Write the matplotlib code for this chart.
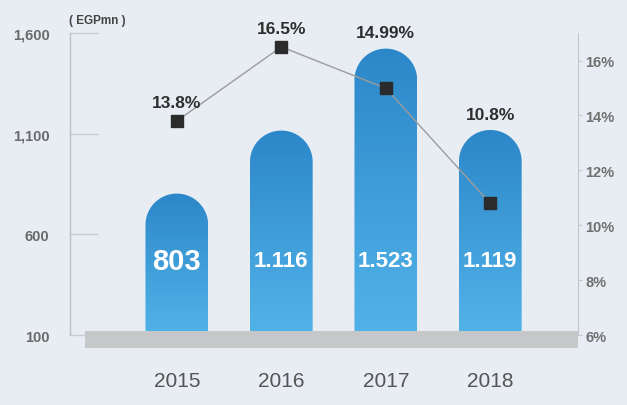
import numpy as np
import matplotlib.pyplot as plt
from matplotlib.path import Path
from matplotlib.patches import PathPatch, Rectangle
from matplotlib.colors import LinearSegmentedColormap
from matplotlib.transforms import blended_transform_factory

years = ['2015', '2016', '2017', '2018']
revenue = [803, 1116, 1523, 1119]          # EGPmn
revenue_labels = ['803', '1.116', '1.523', '1.119']
margin = [13.8, 16.5, 14.99, 10.8]          # %
margin_labels = ['13.8%', '16.5%', '14.99%', '10.8%']
left_ticks = [100, 600, 1100, 1600]
right_ticks = [6, 8, 10, 12, 14, 16]

bg = '#e7edf3'
plt.rcParams['font.family'] = ['Liberation Sans', 'DejaVu Sans']

fig = plt.figure(figsize=(6.27, 4.06), dpi=100, facecolor=bg)
ax = fig.add_axes([0.112, 0.172, 0.810, 0.744])
ax.set_facecolor(bg)
ax.set_xlim(-1.02, 3.84)
ax.set_ylim(100, 1600)

x = np.arange(len(years))
bar_w = 0.60

# rounded-top bars filled with a vertical gradient
fig.canvas.draw()
px_per_unit = ax.transData.transform((1, 1)) - ax.transData.transform((0, 0))
cap_h = (bar_w / 2) * px_per_unit[0] / px_per_unit[1]
grad = np.linspace(0, 1, 256).reshape(-1, 1)
blue = LinearSegmentedColormap.from_list('barblue', ['#52b3e8', '#2c87c9'])
for xi, v in zip(x, revenue):
    y0 = v - cap_h
    t = np.linspace(np.pi, 0, 60)
    arc = np.column_stack([xi + bar_w / 2 * np.cos(t), y0 + cap_h * np.sin(t)])
    verts = np.vstack([[xi - bar_w / 2, 100], arc, [xi + bar_w / 2, 100], [xi - bar_w / 2, 100]])
    codes = [Path.MOVETO] + [Path.LINETO] * (len(verts) - 2) + [Path.CLOSEPOLY]
    patch = PathPatch(Path(verts, codes), facecolor='none', edgecolor='none')
    ax.add_patch(patch)
    im = ax.imshow(grad, cmap=blue, aspect='auto', origin='lower',
                   extent=[xi - bar_w / 2, xi + bar_w / 2, 100, v], zorder=2)
    im.set_clip_path(patch)

ax.set_xlim(-1.02, 3.84)
ax.set_ylim(100, 1600)

# grey base strip
tr = blended_transform_factory(ax.transData, ax.transAxes)
ax.add_patch(Rectangle((-0.88, -0.043), 4.72, 0.057, transform=tr,
                       facecolor='#c6c7c8', edgecolor='none', zorder=3, clip_on=False))

for xi, lab in zip(x, revenue_labels):
    size = 21 if len(lab) == 3 else 16
    ax.text(xi, 470, lab, ha='center', va='center', color='white',
            fontsize=size, fontweight='bold', zorder=4)

# left axis
ax.spines[['top', 'right', 'bottom']].set_visible(False)
ax.spines['left'].set_color('#bcc1c6')
ax.spines['left'].set_linewidth(1.0)
ax.set_yticks(left_ticks)
ax.set_yticklabels([f'{t:,}' for t in left_ticks])
ax.tick_params(axis='y', direction='in', length=20, width=1, color='#c9cdd2',
               labelsize=10.5, labelcolor='#6a6a6a', pad=15)
for lab in ax.get_yticklabels():
    lab.set_fontweight('bold')
ax.set_xticks(x)
ax.set_xticklabels(years)
ax.tick_params(axis='x', length=0, labelsize=15, labelcolor='#555555', pad=26)

# right axis with margin line
ax2 = ax.twinx()
ax2.set_ylim(6, 17)
ax2.spines[['top', 'left', 'bottom']].set_visible(False)
ax2.spines['right'].set_color('#c4c8cd')
ax2.set_yticks(right_ticks)
ax2.set_yticklabels([f'{t}%' for t in right_ticks])
ax2.tick_params(axis='y', direction='out', length=3, width=0.8, color='#c4c8cd',
                labelsize=10.5, labelcolor='#707070', pad=2)
for lab in ax2.get_yticklabels():
    lab.set_fontweight('bold')
ax2.plot(x, margin, color='#9c9c9c', linewidth=1.0, marker='s', markersize=8,
         markerfacecolor='#2b2b2b', markeredgecolor='#2b2b2b', zorder=5)

# percentage labels sit above the marker or the bar, whichever is higher
for xi, v, m, lab in zip(x, revenue, margin, margin_labels):
    bar_top = ax.transData.transform((xi, v))[1]
    mark = ax2.transData.transform((xi, m))[1]
    if bar_top > mark:
        ax.annotate(lab, (xi, v), xytext=(0, 6), textcoords='offset points',
                    ha='center', va='bottom', fontsize=12.5, fontweight='bold',
                    color='#2e2e2e', annotation_clip=False, zorder=6)
    else:
        ax2.annotate(lab, (xi, m), xytext=(0, 8), textcoords='offset points',
                     ha='center', va='bottom', fontsize=12.5, fontweight='bold',
                     color='#2e2e2e', annotation_clip=False, zorder=6)

fig.text(0.110, 0.948, '( EGPmn )', ha='left', va='center', fontsize=8.5,
         fontweight='bold', color='#444444')

fig.savefig('out.png', dpi=100, facecolor=bg)
